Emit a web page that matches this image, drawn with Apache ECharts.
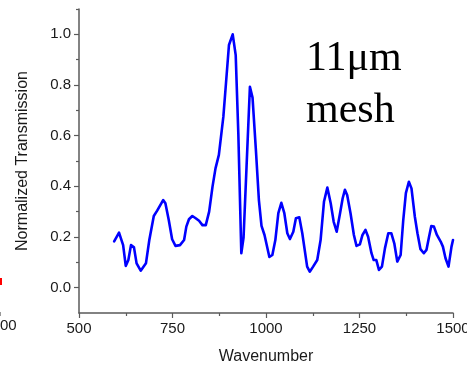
<!DOCTYPE html>
<html>
<head>
<meta charset="utf-8">
<script src="https://cdn.jsdelivr.net/npm/echarts@6/dist/echarts.min.js"></script>
<style>
html,body{margin:0;padding:0;background:#fff;}
#c{width:467px;height:368px;}
</style>
</head>
<body>
<div id="c"></div>
<script>
// Wavenumber (x) and normalized transmission (y)
var wavenumber = [594,607,611,618,625,632,639,647,654,665,670,679,688,700,709,725,731,740,749,758,770,781,787,794,803,812,821,830,839,848,857,865,874,886,893,901,911,919,926,934,940,948,957,964,973,981,988,996,1009,1017,1025,1033,1041,1049,1057,1064,1073,1080,1089,1097,1110,1117,1126,1137,1146,1155,1164,1173,1181,1189,1198,1205,1211,1217,1226,1235,1242,1251,1258,1266,1273,1282,1288,1295,1302,1310,1318,1327,1335,1343,1351,1360,1367,1374,1382,1389,1398,1405,1413,1422,1429,1436,1442,1449,1457,1467,1473,1480,1488,1496,1500];
var transmission = [0.183,0.217,0.215,0.168,0.086,0.109,0.168,0.159,0.096,0.067,0.067,0.096,0.188,0.283,0.304,0.346,0.333,0.267,0.191,0.165,0.168,0.188,0.241,0.270,0.283,0.274,0.264,0.247,0.247,0.300,0.399,0.471,0.524,0.675,0.807,0.958,1.0,0.918,0.609,0.136,0.198,0.478,0.793,0.750,0.543,0.346,0.244,0.208,0.121,0.129,0.188,0.294,0.335,0.294,0.215,0.192,0.221,0.274,0.278,0.215,0.083,0.063,0.083,0.109,0.188,0.339,0.395,0.333,0.260,0.221,0.294,0.353,0.386,0.366,0.294,0.208,0.165,0.171,0.208,0.228,0.201,0.136,0.109,0.109,0.070,0.083,0.155,0.215,0.215,0.175,0.103,0.129,0.267,0.373,0.418,0.392,0.280,0.215,0.152,0.136,0.149,0.201,0.243,0.241,0.208,0.182,0.162,0.116,0.083,0.162,0.188];
var xTickLabels = [500, 750, 1000, 1250, 1500];
var yTickLabels = [0.0, 0.2, 0.4, 0.6, 0.8, 1.0];
var yMinorTicks = [0.1, 0.3, 0.5, 0.7, 0.9, 1.1];

var pts = wavenumber.map(function (w, i) { return [w, transmission[i]]; });
var axisColor = '#5a5a5a';
var labelFont = {color: '#1a1a1a', fontSize: 15, fontFamily: 'Liberation Sans, Arial, sans-serif'};

var chart = echarts.init(document.getElementById('c'), null, {renderer: 'canvas'});
chart.setOption({
  animation: false,
  backgroundColor: '#ffffff',
  grid: {left: 79, right: 14, top: 9, bottom: 55, containLabel: false, outerBoundsMode: 'none'},
  xAxis: {
    type: 'value', min: 500, max: 1500, interval: 250,
    name: 'Wavenumber', nameLocation: 'middle', nameGap: 36,
    nameTextStyle: {color: '#1a1a1a', fontSize: 16, fontFamily: 'Liberation Sans, Arial, sans-serif'},
    axisLine: {show: true, onZero: false, lineStyle: {color: axisColor, width: 1.5}},
    axisTick: {show: true, inside: false, length: 5, customValues: xTickLabels, lineStyle: {color: axisColor, width: 1.2}},
    minorTick: {show: true, splitNumber: 2, length: 3, lineStyle: {color: axisColor, width: 1.2}},
    axisLabel: Object.assign({margin: 8, customValues: xTickLabels, formatter: function (v) { return String(v); }}, labelFont),
    splitLine: {show: false}, minorSplitLine: {show: false}
  },
  yAxis: [{
    type: 'value', min: -0.1, max: 1.1,
    name: 'Normalized Transmission', nameLocation: 'middle', nameGap: 48, nameRotate: 90,
    nameTextStyle: {color: '#1a1a1a', fontSize: 16, fontFamily: 'Liberation Sans, Arial, sans-serif'},
    axisLine: {show: true, onZero: false, lineStyle: {color: axisColor, width: 1.5}},
    axisTick: {show: true, inside: false, length: 5, customValues: yTickLabels, lineStyle: {color: axisColor, width: 1.2}},
    axisLabel: Object.assign({margin: 8, customValues: yTickLabels, formatter: function (v) { return v.toFixed(1); }}, labelFont),
    splitLine: {show: false}
  }, {
    type: 'value', min: -0.1, max: 1.1, position: 'left',
    axisLine: {show: false},
    axisTick: {show: true, inside: false, length: 3, customValues: yMinorTicks, lineStyle: {color: axisColor, width: 1.2}},
    axisLabel: {show: false},
    splitLine: {show: false}
  }],
  series: [{
    type: 'line', data: pts, showSymbol: false, smooth: false,
    lineStyle: {color: '#0000ff', width: 2.6, join: 'round', cap: 'round'},
    clip: true
  }],
  graphic: [
    {type: 'text', left: 306, top: 38, style: {text: '11\u03bcm', font: '42px "Liberation Serif", "Times New Roman", serif', fill: '#000'}},
    {type: 'text', left: 306, top: 90, style: {text: 'mesh', font: '42px "Liberation Serif", "Times New Roman", serif', fill: '#000'}},
    {type: 'text', x: 0, y: 318, style: {text: '1500', font: '15px "Liberation Sans", Arial, sans-serif', fill: '#1a1a1a', align: 'center', verticalAlign: 'top'}},
    {type: 'rect', shape: {x: 0, y: 278, width: 2, height: 7}, style: {fill: '#ff0000'}},
    {type: 'rect', shape: {x: 0, y: 312, width: 1, height: 4}, style: {fill: '#999999'}}
  ]
});
</script>
</body>
</html>
